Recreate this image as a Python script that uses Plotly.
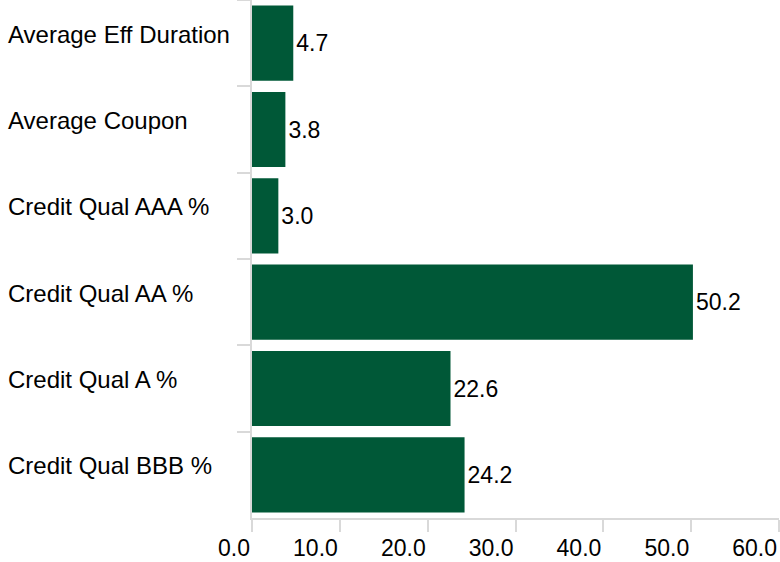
import plotly.graph_objects as go

categories = ["Average Eff Duration", "Average Coupon", "Credit Qual AAA %",
              "Credit Qual AA %", "Credit Qual A %", "Credit Qual BBB %"]
values = [4.7, 3.8, 3.0, 50.2, 22.6, 24.2]
x_ticks = [0, 10, 20, 30, 40, 50, 60]

BAR_COLOR = "#005837"
AXIS_COLOR = "#d9d9d9"
FONT = "Liberation Sans, Arial, sans-serif"

fig = go.Figure(go.Bar(
    x=values, y=categories, orientation="h",
    marker=dict(color=BAR_COLOR, line=dict(width=0)),
    text=values, texttemplate="%{x:.1f}", textposition="outside",
    textfont=dict(size=23, color="#000000", family=FONT),
    cliponaxis=False, constraintext="none",
))

annotations = [
    dict(text=c, xref="paper", x=0, xanchor="left", xshift=-246,
         yref="y", y=c, yanchor="middle", yshift=9, showarrow=False,
         font=dict(size=24, color="#000000", family=FONT))
    for c in categories
]

fig.update_layout(
    width=780, height=562,
    margin=dict(l=252, r=1, t=0, b=44, autoexpand=False),
    paper_bgcolor="white", plot_bgcolor="white",
    bargap=0.13, showlegend=False,
    font=dict(family=FONT, size=23, color="#000000"),
    annotations=annotations,
    xaxis=dict(range=[0, 60], tickvals=x_ticks, tickformat=".1f",
               showgrid=False, zeroline=False, showline=True,
               linecolor=AXIS_COLOR, linewidth=2, automargin=False,
               ticks="outside", ticklen=12, tickwidth=2, tickcolor=AXIS_COLOR,
               ticklabeloverflow="allow", ticklabelposition="outside left",
               ticklabelstandoff=8,
               tickfont=dict(size=23, color="#000000", family=FONT)),
    yaxis=dict(autorange="reversed", showticklabels=False, showgrid=False,
               automargin=False,
               zeroline=False, showline=True, linecolor=AXIS_COLOR, linewidth=2,
               ticks="outside", ticklen=13, tickwidth=2, tickcolor=AXIS_COLOR,
               tickson="boundaries"),
)

fig.write_html("out.html", config={"displayModeBar": False},
               post_script="document.body.style.margin='0';document.body.style.overflow='hidden';")
